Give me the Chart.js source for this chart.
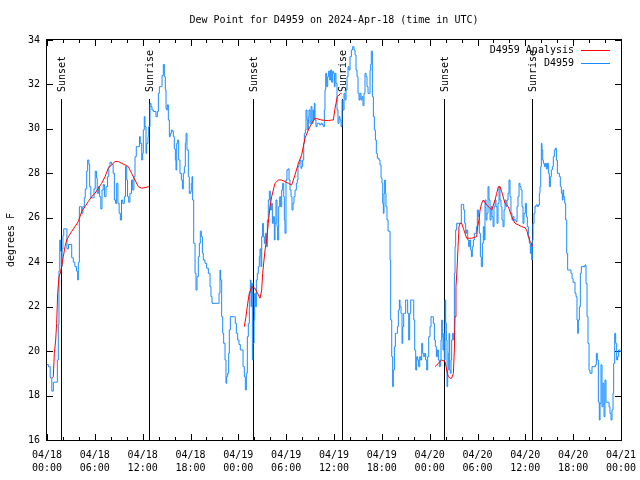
<!DOCTYPE html>
<html>
<head>
<meta charset="utf-8">
<title>Dew Point for D4959</title>
<script src="https://cdn.jsdelivr.net/npm/chart.js@4"></script>
<style>
  html, body { margin: 0; padding: 0; background: #fff; }
  canvas { display: block; }
</style>
</head>
<body>
<canvas id="dewChart" width="640" height="480"></canvas>
<script>
// hours since 2024-04-18 00:00 UTC
const dewHours = [
  0, 0.17, 0.4, 0.6, 0.8, 1.1, 1.3, 1.42, 1.5, 1.6,
  1.7, 1.8, 1.9, 2.0, 2.1, 2.4, 2.5, 2.7, 3.0, 3.1,
  3.3, 3.5, 3.7, 3.85, 3.93, 4.06, 4.2, 4.35, 4.5, 4.68,
  4.8, 4.98, 5.1, 5.25, 5.35, 5.5, 5.7, 5.9, 6.05, 6.2,
  6.3, 6.45, 6.6, 6.75, 6.9, 7.05, 7.2, 7.4, 7.6, 7.75,
  7.9, 8.1, 8.3, 8.45, 8.6, 8.74, 8.9, 9.05, 9.2, 9.35,
  9.5, 9.7, 9.85, 10.0, 10.1, 10.25, 10.4, 10.6, 10.75, 10.9,
  11.04, 11.2, 11.4, 11.6, 11.7, 11.88, 12.0, 12.08, 12.2, 12.29,
  12.42, 12.5, 12.67, 12.75, 12.92, 13.05, 13.17, 13.34, 13.55, 13.67,
  13.84, 13.97, 14.09, 14.38, 14.43, 14.59, 14.72, 14.84, 14.93, 15.01,
  15.09, 15.22, 15.35, 15.47, 15.6, 15.72, 15.85, 15.97, 16.1, 16.18,
  16.27, 16.39, 16.52, 16.68, 16.85, 16.98, 17.1, 17.23, 17.35, 17.44,
  17.56, 17.73, 17.85, 18.02, 18.1, 18.19, 18.27, 18.4, 18.57, 18.69,
  18.82, 18.98, 19.11, 19.23, 19.36, 19.49, 19.61, 19.82, 20.03, 20.24,
  20.45, 20.57, 20.7, 21.49, 21.58, 21.7, 21.78, 21.91, 22.04, 22.16,
  22.33, 22.45, 22.54, 22.66, 22.79, 22.87, 23.0, 23.5, 23.62, 23.75,
  23.92, 24.08, 24.25, 24.42, 24.59, 24.75, 24.88, 25.0, 25.13, 25.25,
  25.38, 25.51, 25.59, 25.67, 25.76, 25.84, 25.97, 26.05, 26.17, 26.26,
  26.38, 26.51, 26.63, 26.72, 26.84, 26.93, 27.05, 27.14, 27.26, 27.39,
  27.51, 27.64, 27.76, 27.89, 28.01, 28.14, 28.27, 28.39, 28.52, 28.6,
  28.72, 28.85, 28.93, 29.06, 29.19, 29.31, 29.44, 29.56, 29.69, 29.77,
  29.85, 29.98, 30.1, 30.23, 30.36, 30.48, 30.61, 30.73, 30.86, 30.98,
  31.11, 31.28, 31.4, 31.48, 31.61, 31.74, 31.86, 31.94, 32.07, 32.2,
  32.28, 32.41, 32.49, 32.61, 32.7, 32.78, 32.86, 32.99, 33.12, 33.24,
  33.37, 33.45, 33.53, 33.62, 33.74, 33.87, 34.04, 34.2, 34.37, 34.54,
  34.66, 34.79, 34.87, 34.96, 35.08, 35.21, 35.33, 35.46, 35.58, 35.71,
  35.83, 35.96, 36.04, 36.13, 36.25, 36.38, 36.5, 36.63, 36.75, 36.88,
  37.01, 37.13, 37.26, 37.38, 37.51, 37.63, 37.76, 37.88, 38.01, 38.18,
  38.34, 38.51, 38.64, 38.76, 38.89, 39.01, 39.14, 39.26, 39.39, 39.51,
  39.64, 39.76, 39.89, 40.02, 40.14, 40.27, 40.39, 40.52, 40.6, 40.68,
  40.81, 40.94, 41.06, 41.19, 41.31, 41.44, 41.65, 41.77, 41.9, 42.02,
  42.11, 42.19, 42.27, 42.36, 42.44, 42.52, 42.65, 42.78, 42.94, 43.03,
  43.11, 43.24, 43.36, 43.44, 43.57, 43.7, 43.82, 43.95, 44.07, 44.2,
  44.28, 44.41, 44.53, 44.62, 44.74, 44.87, 44.99, 45.12, 45.24, 45.37,
  45.49, 45.62, 45.87, 46.0, 46.12, 46.25, 46.37, 46.5, 46.62, 46.75,
  46.87, 47.0, 47.12, 47.25, 47.38, 47.5, 47.63, 47.75, 47.88, 48.04,
  48.17, 48.34, 48.46, 48.59, 48.71, 48.84, 48.96, 49.09, 49.21, 49.34,
  49.42, 49.51, 49.59, 49.67, 49.76, 49.84, 49.93, 50.01, 50.09, 50.18,
  50.26, 50.34, 50.43, 50.51, 50.59, 50.68, 50.76, 50.89, 51.01, 51.1,
  51.18, 51.26, 51.39, 51.85, 51.97, 52.14, 52.27, 52.39, 52.52, 52.64,
  52.77, 52.89, 53.02, 53.14, 53.23, 53.35, 53.48, 53.6, 53.73, 53.86,
  53.98, 54.11, 54.23, 54.36, 54.48, 54.61, 54.73, 54.86, 54.94, 55.07,
  55.19, 55.32, 55.44, 55.57, 55.7, 55.82, 55.95, 56.07, 56.2, 56.32,
  56.45, 56.57, 56.7, 56.82, 56.95, 57.07, 57.2, 57.33, 57.45, 57.58,
  57.7, 57.83, 57.95, 58.08, 58.2, 58.33, 58.45, 58.58, 58.83, 58.96,
  59.08, 59.21, 59.33, 59.46, 59.58, 59.71, 59.83, 60.0, 60.13, 60.25,
  60.38, 60.5, 60.63, 60.71, 60.8, 60.88, 60.96, 61.09, 61.21, 61.34,
  61.51, 61.63, 61.76, 61.84, 61.93, 62.01, 62.09, 62.18, 62.26, 62.39,
  62.51, 62.64, 62.76, 62.89, 63.01, 63.14, 63.26, 63.39, 63.51, 63.64,
  63.77, 63.89, 64.02, 64.27, 64.39, 64.52, 64.64, 64.73, 64.81, 64.94,
  65.06, 65.19, 65.31, 65.61, 65.73, 65.86, 65.98, 66.11, 66.23, 66.36,
  66.48, 66.57, 66.65, 66.78, 66.9, 67.03, 67.49, 67.61, 67.74, 67.86,
  67.99, 68.11, 68.24, 68.36, 68.78, 68.91, 69.03, 69.16, 69.28, 69.37,
  69.49, 69.62, 69.74, 69.87, 69.99, 70.12, 70.37, 70.5, 70.62, 70.75,
  70.87, 71.0, 71.08, 71.21, 71.33, 71.46, 71.58, 71.71, 71.88, 72.0
];
const dewValues = [
  19.4, 19.3, 18.8, 18.2, 18.6, 18.6, 19.6, 21.2, 23.6, 25.0,
  24.5, 23.8, 24.6, 25.2, 25.5, 25.5, 24.6, 24.8, 24.8, 24.2,
  24.0, 23.8, 23.6, 23.2, 24.0, 26.5, 26.5, 26.2, 26.5, 26.9,
  27.3, 28.1, 28.6, 28.4, 27.4, 26.9, 26.9, 27.3, 28.1, 27.8,
  27.1, 27.4, 26.95, 26.4, 27.25, 27.5, 26.95, 27.4, 27.85, 28.3,
  28.5, 28.4, 28.0, 26.8, 26.65, 27.55, 26.65, 26.2, 25.9, 26.8,
  26.65, 26.95, 28.3, 27.7, 26.95, 26.7, 27.1, 27.7, 27.25, 27.85,
  28.75, 29.2, 29.2, 29.65, 29.35, 28.6, 28.9, 29.95, 30.55, 30.1,
  28.9, 29.35, 29.65, 30.1, 31.15, 31.0, 30.85, 30.78, 30.78, 30.55,
  30.78, 31.6, 31.9, 31.9, 32.4, 32.9, 32.35, 31.75, 30.9, 30.85,
  31.08, 30.4, 29.65, 29.8, 29.95, 29.9, 29.65, 29.1, 28.6, 28.15,
  29.35, 29.5, 28.6, 28.0, 27.7, 27.3, 28.0, 28.3, 29.35, 29.8,
  29.05, 27.85, 27.1, 27.18, 27.55, 27.85, 26.8, 24.85, 23.5, 22.75,
  23.35, 24.25, 24.85, 25.4, 25.15, 24.4, 24.1, 23.95, 23.73, 23.5,
  22.9, 22.45, 22.15, 22.15, 22.6, 23.65, 23.2, 21.55, 20.8, 20.35,
  19.6, 18.55, 18.85, 19.0, 19.9, 20.95, 21.55, 21.55, 21.25, 20.8,
  20.5, 20.3, 20.05, 20.05, 19.3, 18.85, 18.25, 19.0, 20.65, 21.25,
  22.6, 23.2, 22.0, 23.05, 19.6, 20.35, 21.4, 22.6, 22.0, 23.2,
  23.5, 23.8, 24.25, 24.6, 23.8, 25.15, 25.75, 25.15, 24.85, 25.3,
  24.7, 25.9, 26.8, 27.2, 26.35, 26.65, 25.75, 26.05, 25.0, 25.75,
  26.8, 25.6, 25.0, 26.5, 26.95, 26.5, 27.25, 27.55, 26.95, 25.9,
  25.3, 27.7, 28.15, 28.2, 27.7, 27.25, 26.95, 26.35, 26.65, 26.95,
  27.25, 27.55, 27.7, 28.3, 28.45, 28.6, 28.22, 28.3, 28.6, 29.35,
  29.8, 29.95, 30.85, 30.4, 29.95, 30.55, 30.85, 30.25, 31.0, 30.25,
  30.85, 30.4, 31.15, 30.4, 30.1, 30.25, 30.25, 30.18, 30.25, 30.18,
  30.1, 30.85, 31.75, 32.5, 31.9, 32.35, 32.6, 32.2, 32.65, 32.1,
  32.58, 32.5, 31.9, 32.5, 32.05, 30.85, 30.25, 30.55, 30.4, 30.1,
  31.3, 30.85, 31.6, 31.3, 31.75, 32.35, 32.8, 32.65, 33.25, 33.55,
  33.7, 33.55, 33.33, 32.65, 32.35, 31.6, 31.3, 31.6, 31.3, 31.45,
  31.05, 31.6, 32.5, 32.35, 31.9, 31.6, 31.6, 32.65, 32.9, 33.5,
  31.45, 30.55, 29.95, 29.5, 28.9, 28.68, 28.6, 28.38, 27.8, 27.55,
  26.65, 26.2, 27.1, 27.7, 27.1, 26.5, 25.9, 25.4, 25.4, 24.1,
  21.4, 19.75, 18.4, 19.15, 20.2, 20.8, 20.8, 21.1, 21.85, 22.3,
  22.0, 21.7, 20.35, 21.1, 21.7, 21.7, 22.3, 22.3, 21.7, 20.5,
  21.7, 22.3, 22.3, 21.4, 20.05, 19.15, 19.75, 19.6, 19.3, 19.75,
  19.6, 20.35, 19.9, 19.75, 19.9, 19.6, 19.15, 19.75, 20.65, 21.1,
  21.55, 21.55, 21.25, 20.5, 20.2, 19.75, 20.05, 19.6, 19.3, 19.6,
  20.5, 21.4, 20.65, 20.05, 20.8, 19.6, 22.3, 21.25, 20.5, 18.4,
  19.15, 19.9, 20.8, 19.15, 19.0, 19.6, 20.5, 20.8, 20.5, 23.5,
  24.7, 25.45, 25.75, 25.75, 26.6, 26.6, 26.35, 25.75, 25.3, 25.45,
  25.0, 24.7, 25.0, 24.55, 24.25, 24.7, 25.0, 25.3, 25.3, 25.6,
  26.35, 26.05, 25.3, 24.25, 23.8, 24.85, 25.6, 25.0, 26.8, 25.9,
  26.2, 27.4, 26.8, 25.9, 26.5, 26.05, 25.6, 26.5, 26.8, 26.5,
  25.75, 26.65, 27.4, 26.8, 26.5, 25.9, 25.6, 26.35, 26.8, 26.5,
  26.8, 27.1, 27.7, 26.95, 26.2, 25.9, 26.05, 25.9, 25.83, 26.5,
  26.95, 27.55, 27.4, 27.25, 26.5, 25.75, 26.2, 26.65, 26.05, 25.6,
  25.15, 24.85, 24.4, 24.85, 24.1, 25.0, 25.75, 26.2, 26.5, 26.58,
  26.5, 26.58, 27.1, 27.4, 28.3, 29.35, 29.05, 28.6, 28.45, 28.3,
  28.45, 28.2, 28.45, 28.0, 27.4, 27.85, 28.15, 28.3, 28.75, 29.05,
  29.13, 28.6, 28.0, 27.85, 27.4, 27.1, 26.8, 27.25, 26.95, 26.65,
  25.9, 24.4, 23.65, 23.65, 23.5, 23.28, 23.1, 23.1, 22.6, 22.45,
  21.4, 20.8, 21.4, 22.0, 23.5, 23.8, 23.88, 23.05, 21.55, 20.35,
  19.15, 19.0, 19.0, 19.3, 19.38, 19.9, 19.6, 17.7, 16.9, 17.65,
  19.38, 17.5, 18.55, 17.05, 18.7, 17.7, 17.7, 17.5, 17.2, 16.9,
  17.35, 18.1, 19.45, 20.8, 20.35, 19.6, 19.75, 20.05, 19.98, 20.0
];

// analysis (null = no analysis during the day)
const anaHours = [
  0.67, 0.79, 0.92, 1.09, 1.21, 1.34, 1.51, 1.67, 1.84, 2.05,
  2.26, 2.47, 2.68, 3.09, 3.51, 3.93, 4.35, 4.77, 5.18, 5.6,
  6.02, 6.44, 6.86, 7.28, 7.69, 8.11, 8.53, 8.95, 9.37, 9.78,
  10.2, 10.62, 11.04, 11.46, 11.88, 12.8, 13.0, 24.75, 24.96, 25.17,
  25.38, 25.67, 26.09, 26.51, 26.72, 26.93, 27.05, 27.35, 27.55, 27.76,
  27.97, 28.18, 28.39, 28.6, 29.02, 29.44, 29.85, 30.27, 30.69, 31.11,
  31.53, 31.94, 32.36, 32.78, 33.2, 33.62, 34.45, 35.29, 35.71, 35.92,
  36.13, 36.42, 36.84, 36.95, 37.1, 48.67, 49.09, 49.51, 49.93, 50.13,
  50.34, 50.55, 50.76, 50.97, 51.1, 51.18, 51.3, 51.43, 51.56, 51.68,
  51.81, 52.02, 52.22, 52.43, 52.64, 53.27, 53.9, 54.02, 54.19, 54.32,
  54.52, 54.73, 55.15, 55.57, 55.78, 56.2, 56.41, 56.62, 56.82, 57.03,
  57.45, 57.87, 58.29, 58.71, 59.12, 59.54, 59.96, 60.17, 60.38, 60.63,
  60.8, 60.88
];
const anaValues = [
  18.8, 18.85, 19.9, 20.5, 21.25, 22.6, 23.35, 23.5, 23.8, 24.25,
  24.7, 25.0, 25.15, 25.38, 25.6, 25.83, 26.28, 26.5, 26.73, 26.95,
  27.1, 27.33, 27.55, 27.85, 28.23, 28.38, 28.53, 28.53, 28.45, 28.38,
  28.3, 28.0, 27.7, 27.4, 27.33, 27.4, null, 21.1, 21.55, 22.15,
  22.6, 22.9, 22.83, 22.53, 22.38, 22.75, 23.5, 24.55, 25.0, 25.75,
  26.5, 26.95, 27.25, 27.55, 27.7, 27.7, 27.63, 27.55, 27.48, 27.93,
  28.45, 28.83, 29.58, 29.95, 30.25, 30.48, 30.4, 30.37, 30.4, 30.4,
  30.93, 31.45, 31.6, 31.6, null, 19.3, 19.45, 19.6, 19.53, 19.15,
  18.85, 18.78, 18.78, 19.0, 20.05, 21.55, 22.9, 23.65, 24.7, 25.6,
  25.75, 25.75, 25.53, 25.3, 25.08, 25.08, 25.15, 25.6, 25.9, 26.35,
  26.65, 26.8, 26.58, 26.43, 26.35, 26.8, 27.1, 27.4, 27.4, 27.18,
  26.65, 26.5, 26.05, 25.75, 25.68, 25.6, 25.55, 25.45, 25.15, 24.9,
  24.85, 24.7
];

const sunHours = [1.77, 12.83, 25.87, 36.95, 49.83, 60.88];
const sunLabels = ['Sunset', 'Sunrise', 'Sunset', 'Sunrise', 'Sunset', 'Sunrise'];
const sunLineTop = 31.35;   // lines end a bit below the top
const sunTextBase = 31.66;

const xTickLabels = [
  ['04/18', '00:00'], ['04/18', '06:00'], ['04/18', '12:00'], ['04/18', '18:00'],
  ['04/19', '00:00'], ['04/19', '06:00'], ['04/19', '12:00'], ['04/19', '18:00'],
  ['04/20', '00:00'], ['04/20', '06:00'], ['04/20', '12:00'], ['04/20', '18:00'],
  ['04/21', '00:00']
];

const toPoints = (hs, vs) => hs.map((h, i) => ({x: h, y: vs[i]}));

// gnuplot-like frame: border, inward ticks, sun lines, legend
const gnuFrame = {
  id: 'gnuFrame',
  beforeDatasetsDraw(chart) {
    const {ctx, chartArea: a, scales: {x, y}} = chart;
    ctx.save();
    ctx.strokeStyle = '#000';
    ctx.lineWidth = 1;
    ctx.beginPath();
    for (let h = 0; h <= 72; h += 2) {
      const px = Math.round(x.getPixelForValue(h)) + 0.5;
      const len = h % 6 === 0 ? 6 : 3;
      ctx.moveTo(px, a.bottom); ctx.lineTo(px, a.bottom - len);
      ctx.moveTo(px, a.top); ctx.lineTo(px, a.top + len);
    }
    y.ticks.forEach(t => {
      const py = Math.round(y.getPixelForValue(t.value)) + 0.5;
      ctx.moveTo(a.left, py); ctx.lineTo(a.left + 6, py);
      ctx.moveTo(a.right, py); ctx.lineTo(a.right - 6, py);
    });
    sunHours.forEach(h => {
      const px = Math.round(x.getPixelForValue(h)) + 0.5;
      ctx.moveTo(px, a.bottom);
      ctx.lineTo(px, Math.round(y.getPixelForValue(sunLineTop)));
    });
    ctx.stroke();
    ctx.strokeRect(Math.round(a.left) - 0.5, Math.round(a.top) - 0.5,
      Math.round(a.right - a.left) + 1, Math.round(a.bottom - a.top) + 1);

    ctx.fillStyle = '#000';
    ctx.font = '10px "DejaVu Sans Mono"';
    ctx.textAlign = 'left';
    ctx.textBaseline = 'middle';
    sunHours.forEach((h, i) => {
      ctx.save();
      ctx.translate(Math.round(x.getPixelForValue(h)) + 1.5, y.getPixelForValue(sunTextBase));
      ctx.rotate(-Math.PI / 2);
      ctx.fillText(sunLabels[i], 0, 0);
      ctx.restore();
    });
    ctx.restore();
  },
  afterDatasetsDraw(chart) {
    const {ctx, chartArea: a} = chart;
    ctx.save();
    ctx.font = '10px "DejaVu Sans Mono"';
    ctx.textAlign = 'right';
    ctx.textBaseline = 'middle';
    ctx.lineWidth = 1;
    chart.data.datasets.forEach((ds, i) => {
      const yy = Math.round(a.top + 10 + i * 13) + 0.5;
      ctx.fillStyle = '#000';
      ctx.fillText(ds.label, a.right - 47, yy);
      ctx.strokeStyle = ds.borderColor;
      ctx.beginPath();
      ctx.moveTo(a.right - 40, yy);
      ctx.lineTo(a.right - 11, yy);
      ctx.stroke();
    });
    ctx.restore();
  }
};

Chart.defaults.font.family = '"DejaVu Sans Mono", monospace';
Chart.defaults.font.size = 10;
Chart.defaults.color = '#000';

const ctx = document.getElementById('dewChart').getContext('2d');
new Chart(ctx, {
  type: 'line',
  data: {
    datasets: [
      {
        label: 'D4959 Analysis',
        data: toPoints(anaHours, anaValues),
        borderColor: '#ff0000',
        borderWidth: 1,
        pointRadius: 0,
        tension: 0,
        spanGaps: false
      },
      {
        label: 'D4959',
        data: toPoints(dewHours, dewValues),
        borderColor: '#1a8cff',
        borderWidth: 1,
        pointRadius: 0,
        stepped: true
      }
    ]
  },
  options: {
    responsive: false,
    animation: false,
    devicePixelRatio: 1,
    layout: { padding: { left: 0, right: 19, top: 0, bottom: 0 } },
    plugins: {
      legend: { display: false },
      tooltip: { enabled: false },
      title: {
        display: true,
        fullSize: false,
        text: 'Dew Point for D4959 on 2024-Apr-18 (time in UTC)',
        font: { size: 10, weight: 'normal', lineHeight: 1.2 },
        color: '#000',
        padding: { top: 14, bottom: 14 }
      }
    },
    scales: {
      x: {
        type: 'linear',
        min: 0,
        max: 72,
        grid: { display: false, drawTicks: false },
        border: { display: false },
        ticks: {
          stepSize: 6,
          autoSkip: false,
          maxRotation: 0,
          minRotation: 0,
          padding: 9,
          font: { size: 10, lineHeight: 1.3 },
          callback: (v) => xTickLabels[Math.round(v / 6)]
        },
        afterFit: (scale) => {
          scale.height = 40;
          // labels may hang over the edges, like gnuplot
          scale.paddingLeft = 0;
          scale.paddingRight = 0;
        }
      },
      y: {
        min: 16,
        max: 34,
        grid: { display: false, drawTicks: false },
        border: { display: false },
        ticks: { stepSize: 2, padding: 7 },
        title: {
          display: true,
          text: 'degrees F',
          font: { size: 10, lineHeight: 1.2 },
          padding: { top: 5, bottom: 0 }
        },
        afterFit: (scale) => { scale.width = 47; }
      }
    }
  },
  plugins: [gnuFrame]
});
</script>
</body>
</html>
